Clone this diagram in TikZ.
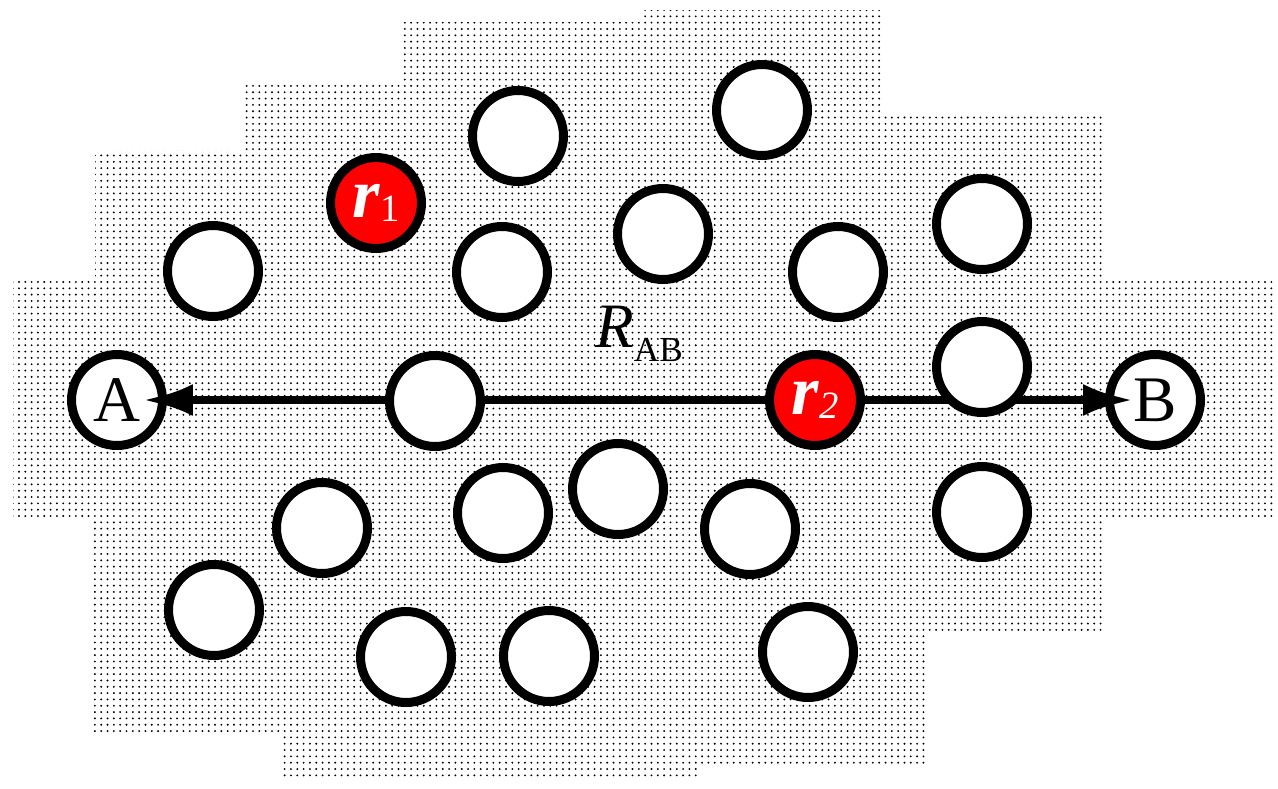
\documentclass[tikz,border=0pt]{standalone}
\usepackage{fontspec}
\setmainfont{Liberation Serif}
\usepackage{xcolor}
\usetikzlibrary{arrows.meta,patterns.meta}
\definecolor{beadred}{RGB}{255, 0, 0}

\tikzdeclarepattern{
  name=meshdots,
  type=uncolored,
  bounding box={(-1pt,-1pt) and (1pt,1pt)},
  tile size={(3.6pt,3.6pt)},
  code={\pgfpathcircle{\pgfpointorigin}{0.6pt}\pgfusepath{fill}}
}

\tikzset{
  bead/.style={circle, draw, line width=0.18cm, fill=white, minimum size=1.82cm, inner sep=0pt},
  redbead/.style={bead, fill=beadred, text=white},
  endbead/.style={bead, font=\fontsize{37}{37}\selectfont},
  distline/.style={line width=0.16cm, {Latex[length=1cm,width=0.64cm]}-{Latex[length=1cm,width=0.64cm]}}
}

\begin{document}
\begin{tikzpicture}[x=0.02cm, y=-0.02cm]
\useasboundingbox (0,0) rectangle (1278,788);

% dotted mesh behind the beads
\fill[pattern=meshdots, pattern color=black] (13,278) -- (95,278) -- (95,150) -- (242,150) -- (242,82)
  -- (400,82) -- (400,22) -- (640,22) -- (640,10) -- (883,10) -- (883,115) -- (1105,115)
  -- (1105,277) -- (1275,277) -- (1275,517) -- (1102,517) -- (1102,632) -- (925,632)
  -- (925,765) -- (700,765) -- (700,778) -- (283,778) -- (283,735) -- (90,735) -- (90,520)
  -- (13,520) -- cycle;

% end points
\node[endbead] (A) at (117,400) {A};
\node[endbead] (B) at (1155,400) {B};

\draw[distline] ([xshift=0.52cm]A.center) -- ([xshift=-0.44cm]B.center);

% beads
\foreach \x/\y [count=\i] in {213/271, 518/136, 762/110, 502/272, 663/234, 838/272,
  982/224, 982/367, 435/401, 322/528, 214/610, 503/513, 618/489, 750/529,
  982/512, 406/657, 549/656, 808/652}
  \node[bead] (p\i) at (\x,\y) {};

\node[redbead] (r1) at (376,203) {{\fontsize{40}{40}\selectfont\bfseries\itshape r}\raisebox{-0.22em}{\fontsize{22}{22}\selectfont 1}};
\node[redbead] (r2) at (815,400) {{\fontsize{40}{40}\selectfont\bfseries\itshape r}\raisebox{-0.22em}{\fontsize{22}{22}\selectfont\itshape 2}};

\node[anchor=base west, inner sep=0pt] (RAB) at (595,347) {{\fontsize{36}{36}\selectfont\itshape R}\raisebox{-8.5pt}{\fontsize{20}{20}\selectfont AB}};
\end{tikzpicture}
\end{document}
